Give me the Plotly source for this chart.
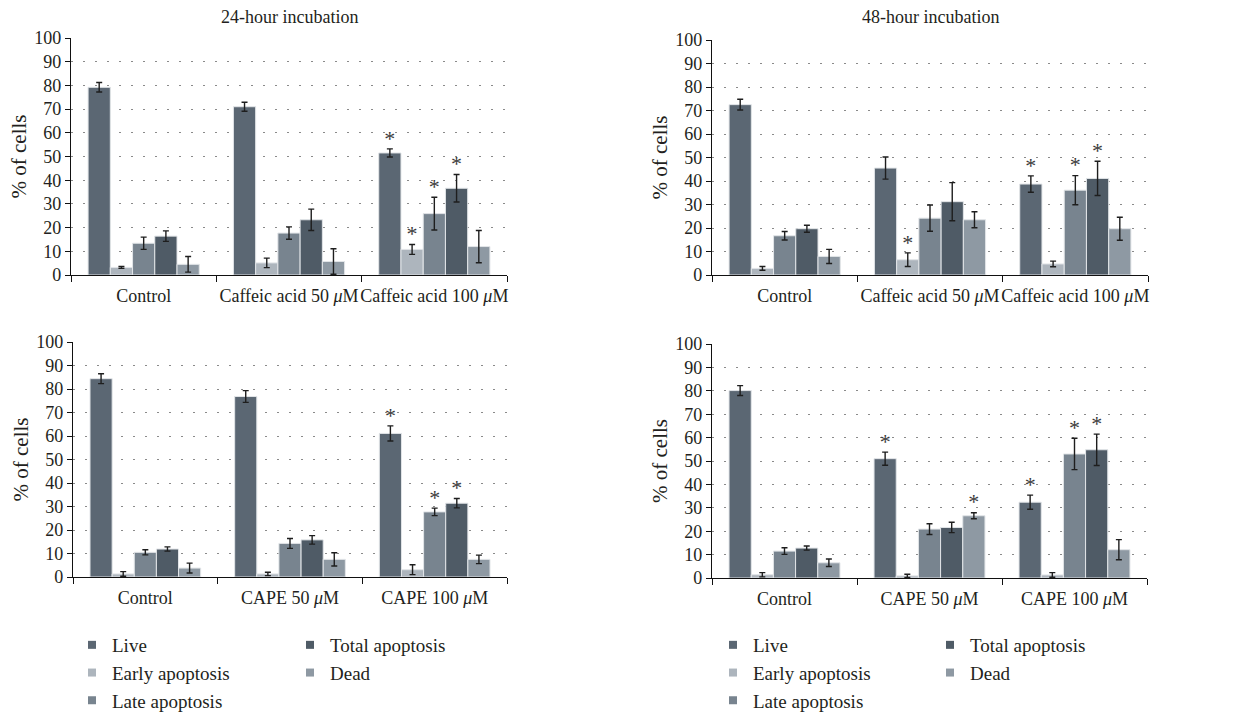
import plotly.graph_objects as go

# ---------------- data ----------------
series = ["Live", "Early apoptosis", "Late apoptosis", "Total apoptosis", "Dead"]
colors = ["#5b6773", "#adb5bd", "#78848f", "#4f5b66", "#8e99a3"]

groups_caffeic = ["Control", "Caffeic acid 50 <i>μ</i>M", "Caffeic acid 100 <i>μ</i>M"]
groups_cape = ["Control", "CAPE 50 <i>μ</i>M", "CAPE 100 <i>μ</i>M"]

# rows follow `series`, columns follow the groups
caf24_mean = [[79.2, 71.0, 51.5], [3.2, 5.1, 10.8], [13.4, 17.7, 25.9], [16.4, 23.3, 36.6], [4.5, 5.7, 12.0]]
caf24_err = [[2.0, 1.9, 1.7], [0.4, 2.0, 2.1], [2.6, 2.6, 6.9], [2.2, 4.5, 5.8], [3.3, 5.4, 6.8]]
caf24_sig = [[0, 0, 1], [0, 0, 1], [0, 0, 1], [0, 0, 1], [0, 0, 0]]

caf48_mean = [[72.5, 45.5, 38.7], [2.8, 6.5, 4.7], [16.7, 24.2, 36.1], [19.7, 31.2, 41.1], [7.9, 23.5, 19.7]]
caf48_err = [[2.3, 4.7, 3.5], [0.8, 2.9, 1.2], [1.8, 5.6, 6.2], [1.5, 8.1, 7.3], [3.0, 3.4, 4.9]]
caf48_sig = [[0, 0, 1], [0, 1, 0], [0, 0, 1], [0, 0, 1], [0, 0, 0]]

cape24_mean = [[84.4, 76.8, 61.1], [1.3, 1.3, 3.1], [10.5, 14.3, 27.7], [11.9, 15.8, 31.4], [3.8, 7.5, 7.5]]
cape24_err = [[2.1, 2.5, 3.2], [1.0, 0.7, 2.1], [1.1, 2.1, 1.6], [0.9, 1.8, 2.0], [2.1, 2.8, 1.8]]
cape24_sig = [[0, 0, 1], [0, 0, 0], [0, 0, 1], [0, 0, 1], [0, 0, 0]]

cape48_mean = [[80.1, 51.0, 32.4], [1.4, 0.9, 1.3], [11.5, 20.9, 53.0], [12.8, 21.6, 54.8], [6.5, 26.6, 12.1]]
cape48_err = [[2.1, 2.8, 3.0], [0.9, 0.7, 1.0], [1.4, 2.3, 6.7], [0.9, 2.2, 6.7], [1.6, 1.3, 4.3]]
cape48_sig = [[0, 1, 1], [0, 0, 0], [0, 0, 1], [0, 0, 1], [0, 1, 0]]

titles = ["24-hour incubation", "48-hour incubation"]
y_ticks = list(range(0, 101, 10))

# ---------------- figure ----------------
W, H = 1256, 714
FONT = "Liberation Serif"
TXT = "#231f20"

panels = [
    dict(cats=groups_caffeic, mean=caf24_mean, err=caf24_err, sig=caf24_sig, s="",
         dx=[71 / W, 507 / W], dy=[1 - 275 / H, 1 - 38 / H]),
    dict(cats=groups_caffeic, mean=caf48_mean, err=caf48_err, sig=caf48_sig, s="2",
         dx=[712 / W, 1148 / W], dy=[1 - 275 / H, 1 - 40 / H]),
    dict(cats=groups_cape, mean=cape24_mean, err=cape24_err, sig=cape24_sig, s="3",
         dx=[73 / W, 507 / W], dy=[1 - 577 / H, 1 - 342 / H]),
    dict(cats=groups_cape, mean=cape48_mean, err=cape48_err, sig=cape48_sig, s="4",
         dx=[712 / W, 1147 / W], dy=[1 - 578 / H, 1 - 344 / H]),
]

fig = go.Figure()
layout = {}

for p in panels:
    s = p["s"]
    for j, name in enumerate(series):
        fig.add_trace(go.Bar(
            x=p["cats"], y=p["mean"][j], name=name,
            xaxis="x" + s, yaxis="y" + s, offsetgroup=str(j),
            marker=dict(color=colors[j], line=dict(color="#e2e5e8", width=1)),
            error_y=dict(type="data", array=p["err"][j], color="#1e1e1e",
                         thickness=1.4, width=3),
            showlegend=False,
        ))
    # significance stars, placed above the error bar in the same bar slot
    for j, name in enumerate(series):
        bases = [m + e - 2.0 for m, e in zip(p["mean"][j], p["err"][j])]
        fig.add_trace(go.Bar(
            x=p["cats"], y=[14 if g else 0 for g in p["sig"][j]], base=bases,
            xaxis="x" + s, yaxis="y" + s, offsetgroup=str(j),
            marker=dict(color="rgba(0,0,0,0)", line=dict(width=0)),
            text=["*" if g else "" for g in p["sig"][j]],
            textposition="inside", insidetextanchor="start", textangle=0,
            textfont=dict(family=FONT, size=22, color="#3a3a3a"),
            showlegend=False, hoverinfo="skip",
        ))
    layout["xaxis" + s] = dict(
        domain=p["dx"], anchor="y" + s, type="category",
        categoryorder="array", categoryarray=p["cats"],
        tickson="boundaries", ticks="outside", ticklen=6, tickwidth=1.3,
        tickcolor="#111", showline=True, linecolor="#111", linewidth=1.3,
        showgrid=False, zeroline=False, tickangle=0, automargin=False,
        ticklabelstandoff=4,
        tickfont=dict(family=FONT, size=18, color=TXT),
    )
    layout["yaxis" + s] = dict(
        domain=p["dy"], anchor="x" + s, range=[0, 100],
        tickvals=y_ticks, ticks="outside", ticklen=5, tickwidth=1.3,
        tickcolor="#111", showline=True, linecolor="#111", linewidth=1.3,
        showgrid=True, gridcolor="#8a8a8a", gridwidth=1, griddash="2px,10px",
        zeroline=False, automargin=False,
        tickfont=dict(family=FONT, size=18, color=TXT),
        title=dict(text="% of cells", font=dict(family=FONT, size=21, color=TXT), standoff=1),
    )

# legend entries (square swatches)
legend_map = [("legend", "legend2"), ("legend3", "legend4")]
for k, (la, lb) in enumerate(legend_map):
    for j, name in enumerate(series):
        fig.add_trace(go.Scatter(
            x=[None], y=[None], mode="markers", name=name,
            marker=dict(symbol="square", size=8, color=colors[j]),
            legend=la if j < 3 else lb, legendgroup=f"{k}-{name}",
            xaxis="x", yaxis="y", hoverinfo="skip",
        ))

leg_common = dict(
    font=dict(family=FONT, size=19, color=TXT), bgcolor="rgba(0,0,0,0)",
    xanchor="left", yanchor="top", traceorder="grouped", tracegroupgap=0,
    orientation="v",
)
LY = 1 - 626 / H
layout["legend"] = dict(leg_common, x=72 / W, y=LY)
layout["legend2"] = dict(leg_common, x=290 / W, y=LY)
layout["legend3"] = dict(leg_common, x=713 / W, y=LY)
layout["legend4"] = dict(leg_common, x=930 / W, y=LY)

annotations = [
    dict(text=titles[0], x=(71 + 507) / 2 / W, y=1 - 17 / H, xref="paper", yref="paper",
         xanchor="center", yanchor="middle",
         showarrow=False, font=dict(family=FONT, size=18, color=TXT)),
    dict(text=titles[1], x=(712 + 1148) / 2 / W, y=1 - 17 / H, xref="paper", yref="paper",
         xanchor="center", yanchor="middle",
         showarrow=False, font=dict(family=FONT, size=18, color=TXT)),
]

fig.update_layout(
    width=W, height=H, margin=dict(l=0, r=0, t=0, b=0, autoexpand=False),
    paper_bgcolor="white", plot_bgcolor="white",
    barmode="group", bargap=0.235, bargroupgap=0,
    annotations=annotations, font=dict(family=FONT, color=TXT),
    uniformtext=dict(minsize=8, mode="show"),
    **layout,
)

fig.write_html("out.html", config={"displayModeBar": False},
               post_script="document.body.style.margin='0';document.body.style.overflow='hidden';")
